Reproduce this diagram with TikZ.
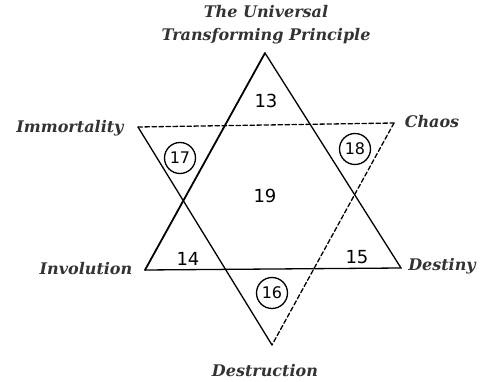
\documentclass[tikz,border=0pt]{standalone}
\usepackage{fontspec}
\newfontfamily\labelfont{DejaVu Serif}
\newfontfamily\numfont{DejaVu Sans}
\begin{document}
\begin{tikzpicture}[x=1pt,y=-1pt,
      edge/.style={line width=1.3pt, line cap=round},
      dashedge/.style={edge, dash pattern=on 4.5pt off 2.5pt},
      heavyedge/.style={edge, line width=1.8pt},
      caption/.style={font=\labelfont\bfseries\itshape\fontsize{16}{23}\selectfont, text=black!80, inner sep=0pt, align=center},
      num/.style={font=\numfont\fontsize{18}{18}\selectfont, inner sep=0pt},
      ringnum/.style={num, circle, draw, line width=1.3pt, minimum size=31pt, font=\numfont\fontsize{16}{16}\selectfont}
    ]
    \useasboundingbox (0,0) rectangle (480,382);

    % upward triangle
    \coordinate (U1) at (265,53);
    \coordinate (U2) at (145,270);
    \coordinate (U3) at (401,268);
    % downward triangle
    \coordinate (D1) at (138,127);
    \coordinate (D2) at (394,123);
    \coordinate (D3) at (272,345);

    \draw[heavyedge] (U1) -- (U2);
    \draw[edge] (U2) -- (U3) -- (U1);

    \draw[dashedge] (D1) -- (D2);
    \draw[dashedge] (D2) -- (D3);
    \draw[edge] (D1) -- (D3);

    \node[caption] (tup) at (266,25) {The Universal\\Transforming Principle};
    \node[caption] (imm) at (70,128) {Immortality};
    \node[caption] (cha) at (432,122) {Chaos};
    \node[caption] (inv) at (86,269) {Involution};
    \node[caption] (des) at (442,266) {Destiny};
    \node[caption] (dst) at (265,371) {Destruction};

    \foreach \n/\x/\y in {13/266/101,19/265/196,14/188/259,15/357/257} {
      \node[num] (n\n) at (\x,\y) {\n};
    }
    \foreach \n/\x/\y in {17/180/158,18/355/149,16/272/293} {
      \node[ringnum] (n\n) at (\x,\y) {\n};
    }
  \end{tikzpicture}
\end{document}
